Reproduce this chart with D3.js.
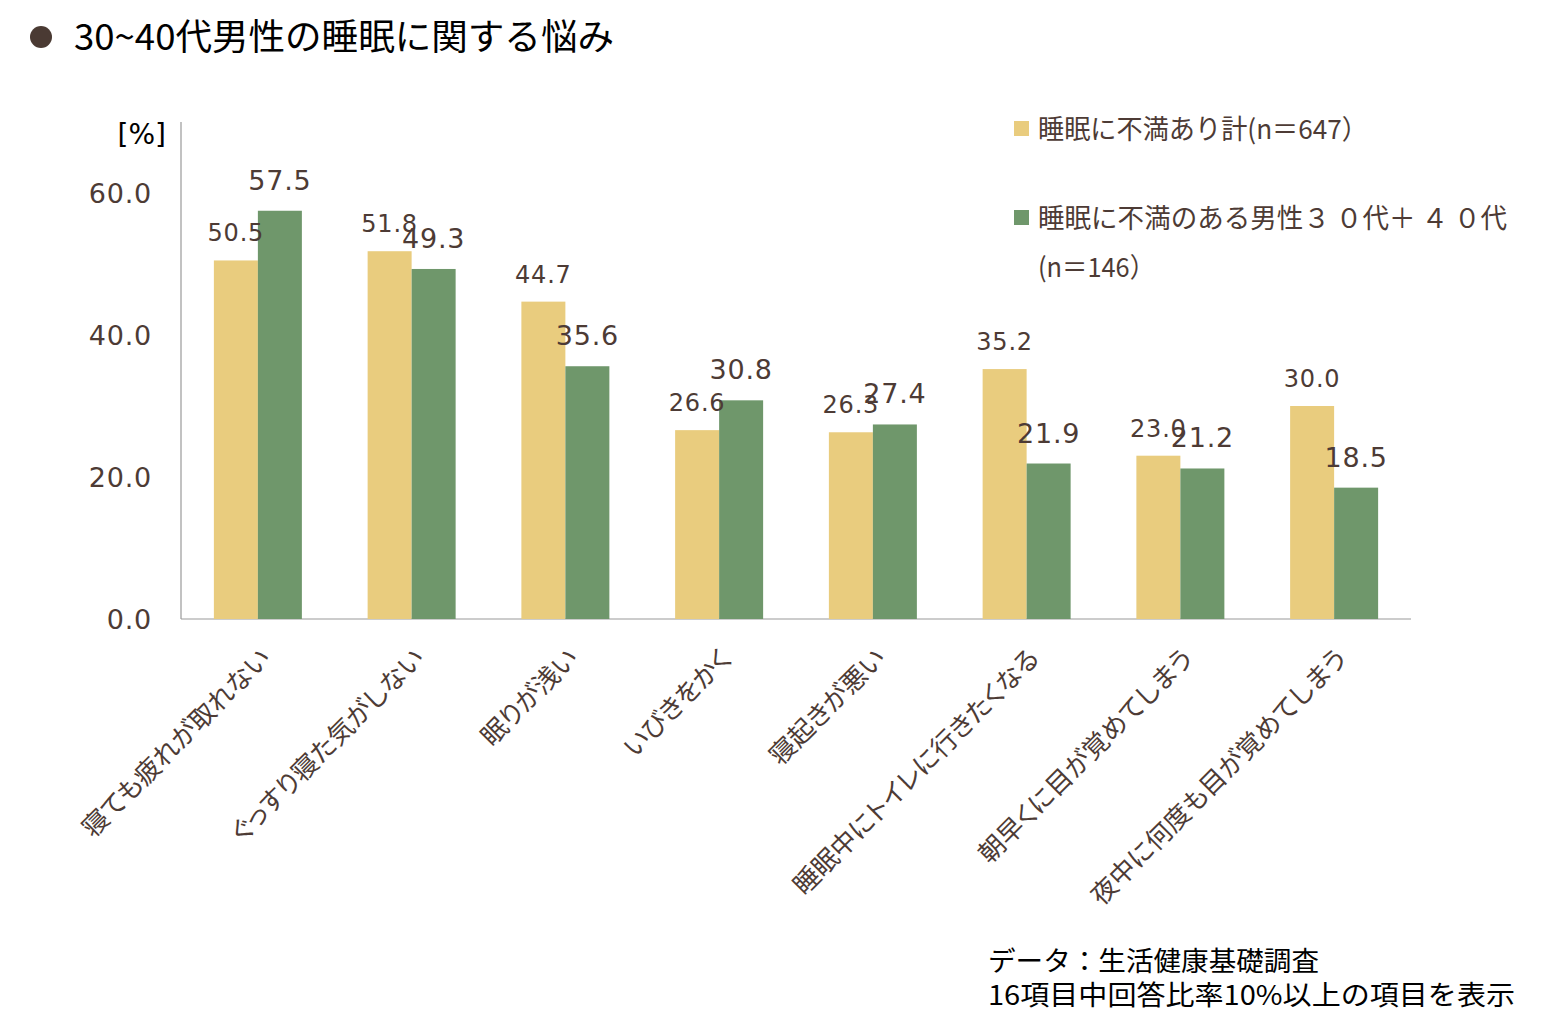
<!DOCTYPE html>
<html>
<head>
<meta charset="utf-8">
<script src="https://cdn.jsdelivr.net/npm/d3@7"></script>
<style>
  body { margin: 0; background: #fff; }
  svg { display: block; }
  text { font-family: "DejaVu Sans", "Noto Sans CJK JP", sans-serif; }
  .cat-label { font-feature-settings: "palt"; }
</style>
</head>
<body>
<script>
var categories = [
    '寝ても疲れが取れない',
    'ぐっすり寝た気がしない',
    '眠りが浅い',
    'いびきをかく',
    '寝起きが悪い',
    '睡眠中にトイレに行きたくなる',
    '朝早くに目が覚めてしまう',
    '夜中に何度も目が覚めてしまう'
];
var totalValues = [50.5, 51.8, 44.7, 26.6, 26.3, 35.2, 23.0, 30.0];
var menValues = [57.5, 49.3, 35.6, 30.8, 27.4, 21.9, 21.2, 18.5];
var yTicks = [0, 20, 40, 60];
var seriesNames = ['睡眠に不満あり計(n＝647）', '睡眠に不満のある男性３ ０代＋ ４ ０代'];

var W = 1544, H = 1031;
var brown = '#4d3b35';
var yellow = '#e9cc7e';
var green = '#6f976b';
var jp = '"Noto Sans CJK JP", sans-serif';

var svg = d3.select('body').append('svg')
    .attr('width', W)
    .attr('height', H);

// title
svg.append('circle')
    .attr('cx', 41).attr('cy', 37).attr('r', 11)
    .attr('fill', '#4a3a33');
svg.append('text')
    .attr('x', 74).attr('y', 50)
    .style('font-family', jp)
    .style('font-size', '36px')
    .attr('fill', '#000')
    .attr('textLength', 540)
    .attr('lengthAdjust', 'spacingAndGlyphs')
    .text('30~40代男性の睡眠に関する悩み');

var x0 = 181, x1 = 1411, yBase = 619;

var x = d3.scaleBand().domain(categories).range([x0, x1]);
var y = d3.scaleLinear().domain([0, 70]).range([yBase, yBase - 70 * 7.1]);
var barW = 44;

// axes lines
svg.append('line')
    .attr('x1', x0).attr('x2', x0)
    .attr('y1', y(70)).attr('y2', yBase)
    .attr('stroke', '#999').attr('stroke-width', 1.2);
svg.append('line')
    .attr('x1', x0).attr('x2', x1)
    .attr('y1', yBase).attr('y2', yBase)
    .attr('stroke', '#999').attr('stroke-width', 1.2);

// y tick labels
svg.selectAll('text.ytick').data(yTicks).enter().append('text')
    .attr('class', 'ytick')
    .attr('x', 152)
    .attr('y', function(d) { return y(d) + 10; })
    .attr('text-anchor', 'end')
    .style('font-size', '27px')
    .style('letter-spacing', '0.8px')
    .attr('fill', brown)
    .text(function(d) { return d.toFixed(1); });

svg.append('text')
    .attr('x', 166).attr('y', 144)
    .attr('text-anchor', 'end')
    .style('font-size', '28px')
    .attr('fill', '#000')
    .text('[%]');

// bars
var groups = svg.selectAll('g.cat').data(categories).enter().append('g')
    .attr('class', 'cat');

groups.append('rect')
    .attr('x', function(d) { return x(d) + x.bandwidth() / 2 - barW; })
    .attr('y', function(d, i) { return y(totalValues[i]); })
    .attr('width', barW)
    .attr('height', function(d, i) { return yBase - y(totalValues[i]); })
    .attr('fill', yellow);

groups.append('rect')
    .attr('x', function(d) { return x(d) + x.bandwidth() / 2; })
    .attr('y', function(d, i) { return y(menValues[i]); })
    .attr('width', barW)
    .attr('height', function(d, i) { return yBase - y(menValues[i]); })
    .attr('fill', green);

// value labels
groups.append('text')
    .attr('x', function(d) { return x(d) + x.bandwidth() / 2 - barW / 2; })
    .attr('y', function(d, i) { return y(totalValues[i]) - 19; })
    .attr('text-anchor', 'middle')
    .style('font-size', '24px')
    .style('letter-spacing', '0.8px')
    .attr('fill', brown)
    .text(function(d, i) { return totalValues[i].toFixed(1); });

groups.append('text')
    .attr('x', function(d) { return x(d) + x.bandwidth() / 2 + barW / 2; })
    .attr('y', function(d, i) { return y(menValues[i]) - 21; })
    .attr('text-anchor', 'middle')
    .style('font-size', '27px')
    .style('letter-spacing', '0.8px')
    .attr('fill', brown)
    .text(function(d, i) { return menValues[i].toFixed(1); });

// category labels
groups.append('text')
    .attr('class', 'cat-label')
    .attr('transform', function(d) {
        return 'translate(' + (x(d) + x.bandwidth() / 2 + 14) + ',' + 660 + ') rotate(-45)';
    })
    .attr('text-anchor', 'end')
    .style('font-family', jp)
    .style('font-size', '26px')
    .attr('fill', brown)
    .text(function(d) { return d; });

// legend
var legend = svg.append('g');
legend.append('rect')
    .attr('x', 1014).attr('y', 121).attr('width', 15).attr('height', 15)
    .attr('fill', yellow);
legend.append('text')
    .attr('x', 1038).attr('y', 139)
    .style('font-family', jp)
    .style('font-size', '27px')
    .attr('fill', brown)
    .attr('textLength', 330)
    .attr('lengthAdjust', 'spacingAndGlyphs')
    .text(seriesNames[0]);
legend.append('rect')
    .attr('x', 1014).attr('y', 210).attr('width', 15).attr('height', 15)
    .attr('fill', green);
legend.append('text')
    .attr('x', 1038).attr('y', 228)
    .style('font-family', jp)
    .style('font-size', '27px')
    .attr('fill', brown)
    .attr('textLength', 469)
    .attr('lengthAdjust', 'spacingAndGlyphs')
    .text(seriesNames[1]);
legend.append('text')
    .attr('x', 1038).attr('y', 277)
    .style('font-family', jp)
    .style('font-size', '27px')
    .attr('fill', brown)
    .attr('textLength', 117)
    .attr('lengthAdjust', 'spacingAndGlyphs')
    .text('(n＝146）');

// source note
svg.append('text')
    .attr('x', 988).attr('y', 971)
    .style('font-family', jp)
    .style('font-size', '27px')
    .attr('fill', '#000')
    .attr('textLength', 331)
    .attr('lengthAdjust', 'spacingAndGlyphs')
    .text('データ：生活健康基礎調査');
svg.append('text')
    .attr('x', 988).attr('y', 1005)
    .style('font-family', jp)
    .style('font-size', '27px')
    .attr('fill', '#000')
    .attr('textLength', 527)
    .attr('lengthAdjust', 'spacingAndGlyphs')
    .text('16項目中回答比率10%以上の項目を表示');
</script>
</body>
</html>
